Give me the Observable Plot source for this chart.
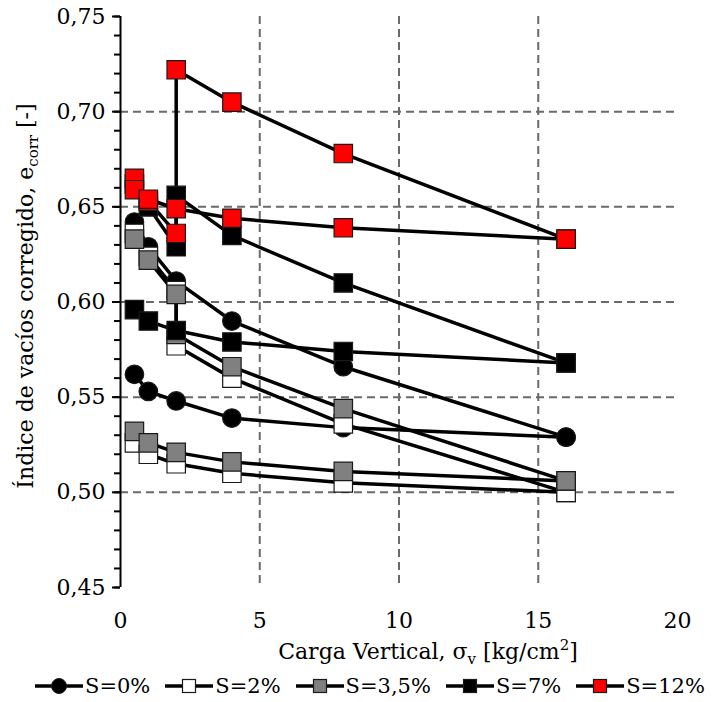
<!DOCTYPE html>
<html>
<head>
<meta charset="utf-8">
<script src="https://cdn.jsdelivr.net/npm/d3@7"></script>
<script src="https://cdn.jsdelivr.net/npm/@observablehq/plot@0.6"></script>
<style>
  html, body { margin: 0; padding: 0; background: #fff; }
  #chart svg { display: block; overflow: visible; }
  #legend { display: flex; align-items: center; height: 32px; padding-left: 35px;
            font-family: "DejaVu Serif", serif; font-size: 21px; color: #000; white-space: nowrap; }
  #legend .item { display: flex; align-items: center; margin-right: 15px; }
  #legend .item:last-child { margin-right: 0; }
  #legend svg { display: block; }
</style>
</head>
<body>
<div id="chart"></div>
<div id="legend"></div>
<script>
// ---- data ----
const loadsA = [0.5, 1, 2, 2, 4, 8, 16];   // test with inundation step at 2 kg/cm2
const loadsB = [0.5, 1, 2, 4, 8, 16];
const seriesNames  = ["S=0%", "S=2%", "S=3,5%", "S=7%", "S=12%"];
const seriesFill   = ["#000000", "#ffffff", "#808080", "#000000", "#ff0000"];
const seriesSymbol = ["circle", "square", "square", "square", "square"];

const eS0_A  = [0.642, 0.629, 0.611, 0.590, 0.566, 0.529];
const eS0_B  = [0.562, 0.553, 0.548, 0.539, 0.534, 0.529];
const eS2_A  = [0.636, 0.624, 0.606, 0.577, 0.560, 0.536, 0.500];
const eS2_B  = [0.526, 0.520, 0.515, 0.510, 0.505, 0.500];
const eS35_A = [0.633, 0.622, 0.604, 0.583, 0.566, 0.544, 0.506];
const eS35_B = [0.532, 0.526, 0.521, 0.516, 0.511, 0.506];
const eS7_A  = [0.662, 0.650, 0.629, 0.656, 0.635, 0.610, 0.568];
const eS7_B  = [0.596, 0.590, 0.585, 0.579, 0.574, 0.568];
const eS12_A = [0.665, 0.653, 0.636, 0.722, 0.705, 0.678, 0.633];
const eS12_B = [0.659, 0.654, 0.649, 0.644, 0.639, 0.633];

const xTicks = [0, 5, 10, 15, 20];
const yTicks = [0.45, 0.50, 0.55, 0.60, 0.65, 0.70, 0.75];

// ---- build table ----
const curves = [
  {s: 0, id: "S0A",  x: loadsB, e: eS0_A},
  {s: 0, id: "S0B",  x: loadsB, e: eS0_B},
  {s: 1, id: "S2A",  x: loadsA, e: eS2_A},
  {s: 1, id: "S2B",  x: loadsB, e: eS2_B},
  {s: 2, id: "S35A", x: loadsA, e: eS35_A},
  {s: 2, id: "S35B", x: loadsB, e: eS35_B},
  {s: 3, id: "S7A",  x: loadsA, e: eS7_A},
  {s: 3, id: "S7B",  x: loadsB, e: eS7_B},
  {s: 4, id: "S12A", x: loadsA, e: eS12_A},
  {s: 4, id: "S12B", x: loadsB, e: eS12_B}
];
const rows = curves.flatMap(c => c.e.map((v, i) => ({s: c.s, curve: c.id, x: c.x[i], e: v})));
const yMinor = d3.range(45, 76).map(d => d / 100);

const font = "DejaVu Serif";
const gridStyle = {stroke: "#6a6a6a", strokeOpacity: 1, strokeWidth: 2, strokeDasharray: "8,5"};

const dotMarks = seriesNames.map((name, s) => {
  const isCircle = seriesSymbol[s] === "circle";
  return Plot.dot(rows.filter(d => d.s === s), {
    x: "x", y: "e", symbol: seriesSymbol[s],
    r: isCircle ? 9.3 : 10.4,
    fill: seriesFill[s], stroke: "#1a1a1a", strokeWidth: 1.2
  });
});

const svg = Plot.plot({
  width: 716, height: 670,
  marginLeft: 120, marginRight: 39, marginTop: 16, marginBottom: 83,
  style: {fontFamily: font, fontSize: "22px", background: "#fff", color: "#000", overflow: "visible"},
  x: {domain: [0, 20]},
  y: {domain: [0.45, 0.75]},
  marks: [
    Plot.gridX([5, 10, 15], gridStyle),
    Plot.gridY([0.50, 0.55, 0.60, 0.65, 0.70], gridStyle),
    Plot.axisY(yMinor, {tickSize: 6, strokeWidth: 2, tickFormat: () => "", label: null}),
    Plot.axisY(yTicks, {tickSize: 8, strokeWidth: 2, tickPadding: 7,
      tickFormat: d => d.toFixed(2).replace(".", ","), label: null, fontSize: 22}),
    Plot.axisX(xTicks, {tickSize: 0, tickPadding: 25, label: null, fontSize: 22}),
    Plot.ruleX([0], {stroke: "#000", strokeWidth: 2}),
    Plot.line(rows, {x: "x", y: "e", z: "curve", stroke: "#000", strokeWidth: 3.5, curve: "linear"}),
    ...dotMarks
  ]
});

// axis titles with sub/superscripts
const sel = d3.select(svg);
const yl = sel.append("text")
  .attr("transform", "translate(33,296) rotate(-90)")
  .attr("text-anchor", "middle")
  .attr("font-family", font).attr("font-size", 22).attr("fill", "#000");
yl.append("tspan").text("Índice de vacíos corregido, e");
yl.append("tspan").attr("font-size", 15).attr("dy", 5).text("corr");
yl.append("tspan").attr("dy", -5).text(" [-]");

const xl = sel.append("text")
  .attr("x", 428).attr("y", 659)
  .attr("text-anchor", "middle")
  .attr("font-family", font).attr("font-size", 22).attr("fill", "#000");
xl.append("tspan").text("Carga Vertical, σ");
xl.append("tspan").attr("font-size", 15).attr("dy", 5).text("v");
xl.append("tspan").attr("dy", -5).text(" [kg/cm");
xl.append("tspan").attr("font-size", 15).attr("dy", -9).text("2");
xl.append("tspan").attr("dy", 9).text("]");

document.getElementById("chart").appendChild(svg);

// legend
const legend = d3.select("#legend");
seriesNames.forEach((name, s) => {
  const item = legend.append("div").attr("class", "item");
  const sw = item.append("svg").attr("width", 50).attr("height", 24);
  sw.append("line").attr("x1", 0).attr("x2", 48).attr("y1", 12).attr("y2", 12)
    .attr("stroke", "#000").attr("stroke-width", 3.5);
  if (seriesSymbol[s] === "circle") {
    sw.append("circle").attr("cx", 24).attr("cy", 12).attr("r", 7.5)
      .attr("fill", seriesFill[s]).attr("stroke", "#1a1a1a");
  } else {
    sw.append("rect").attr("x", 17.5).attr("y", 5.5).attr("width", 13).attr("height", 13)
      .attr("fill", seriesFill[s]).attr("stroke", "#1a1a1a").attr("stroke-width", 1.2);
  }
  item.append("span").text(name);
});
</script>
</body>
</html>
